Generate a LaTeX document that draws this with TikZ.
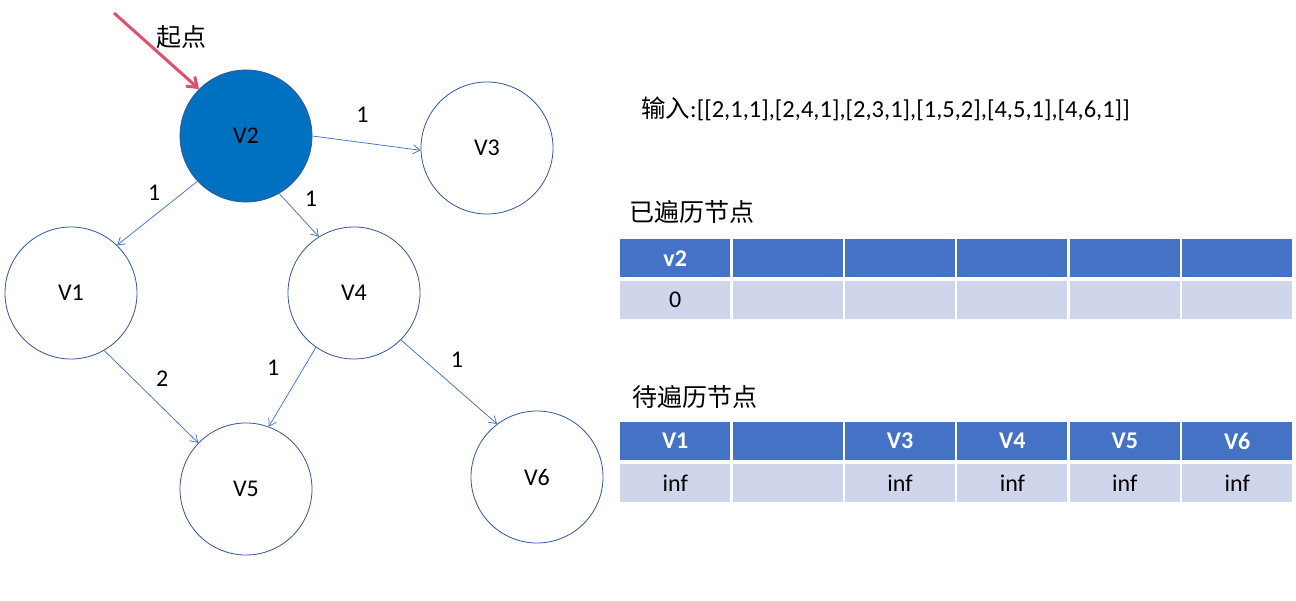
\documentclass[tikz,border=0pt]{standalone}
\usepackage{fontspec}
\setmainfont{Carlito}
\newfontfamily\cjk{Noto Sans CJK SC}
\usepackage{tikz}
\usetikzlibrary{arrows.meta}
\usetikzlibrary{matrix}
\definecolor{nodeblue}{RGB}{0,112,192}
\definecolor{edgeblue}{RGB}{68,114,196}
\definecolor{ringblue}{RGB}{47,85,151}
\definecolor{headblue}{RGB}{68,114,196}
\definecolor{cellblue}{RGB}{207,213,234}
\definecolor{startred}{RGB}{224,80,106}
\newcommand\fsz[1]{\fontsize{#1}{#1}\selectfont}
\tikzstyle{vert}=[circle,draw=ringblue,line width=.8pt,minimum size=132pt,inner sep=0pt,font=\fsz{24}]
\tikzstyle{seen}=[vert,fill=nodeblue]
\tikzstyle{wt}=[inner sep=0pt,text=black,font=\fsz{24}]
\tikzstyle{edhead}=[>/.tip={Straight Barb[length=7pt,width=9pt]}]
\tikzstyle{ed}=[line width=.75pt,edgeblue,edhead,->]
\tikzstyle{startarrow}=[line width=3pt,startred,>/.tip={Straight Barb[length=9pt,width=13pt]},->]
\tikzstyle{tbltitle}=[anchor=west,inner sep=0pt,font=\cjk\fsz{25}]
\tikzstyle{tbl}=[matrix of nodes,nodes in empty cells,anchor=north west,inner sep=0pt,
  column sep=2.4pt,row sep=4pt,
  nodes={anchor=center,minimum width=110pt,minimum height=38pt,inner sep=0pt,outer sep=0pt,fill=cellblue,font=\fsz{24}},
  row 1/.style={nodes={fill=headblue,text=white,font=\fsz{24}\bfseries}}]

\begin{document}
\begin{tikzpicture}[x=1pt,y=-1pt]
	\useasboundingbox (0,0) rectangle (1296,601);
	% graph
	\node[seen] (v2) at (246,136) {V2};
	\node[vert] (v3) at (487,148) {V3};
	\node[vert] (v1) at (71,293)  {V1};
	\node[vert] (v4) at (354,293) {V4};
	\node[vert] (v5) at (246,489) {V5};
	\node[vert] (v6) at (537,477) {V6};
	\coordinate (s) at (114,13);
	\node[wt,font=\cjk\fsz{25}] (slbl) at (181,37) {起点};
	\draw[startarrow] (s) -- (v2.135);
	\draw[ed] (v2.0)   --node[wt,xshift=-4pt,yshift=28pt] {1} (v3.182);
	\draw[ed] (v2.223) --node[wt,xshift=-3pt,yshift=20pt] {1} (v1.46);
	\draw[ed] (v2.-60) --node[wt,xshift=12pt,yshift=16pt] {1} (v4.122);
	\draw[ed] (v1.-60) --node[wt,xshift=11pt,yshift=18pt] {2} (v5.136);
	\draw[ed] (v4.235) --node[wt,xshift=-19pt,yshift=19pt]{1} (v5.70);
	\draw[ed] (v4.-45) --node[wt,xshift=8pt,yshift=22pt]  {1} (v6.127);
	% input and tables
	\node[wt,anchor=west,font=\fsz{24.5}] (input) at (641,109) {{\cjk 输入}:[[2,1,1],[2,4,1],[2,3,1],[1,5,2],[4,5,1],[4,6,1]]};
	\node[tbltitle] (donelbl) at (629,212) {已遍历节点};
	\matrix[tbl] (done) at (620,239) {
	  v2 & & & & & \\
	  0  & & & & & \\
	};
	\node[tbltitle] (todolbl) at (632,397) {待遍历节点};
	\matrix[tbl] (todo) at (620,422) {
	  V1  & & V3  & V4  & V5  & V6  \\
	  inf & & inf & inf & inf & inf \\
	};
\end{tikzpicture}
\end{document}
